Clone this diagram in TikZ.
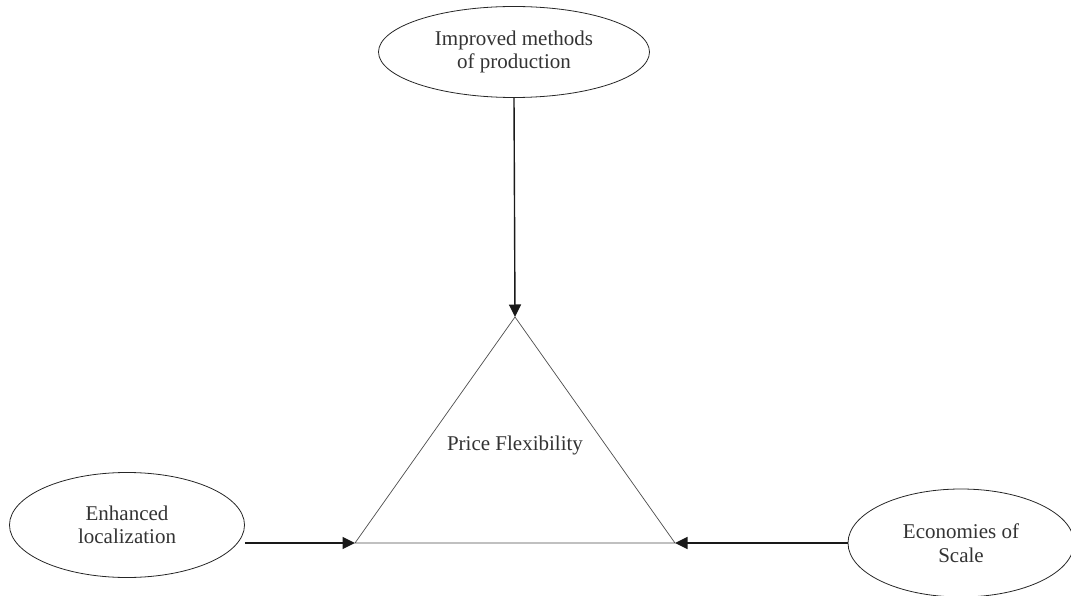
\documentclass[tikz,border=0pt]{standalone}
\usepackage{fontspec}
\setmainfont{Liberation Serif}
\usetikzlibrary{shapes.geometric,arrows.meta}
\begin{document}
\begin{tikzpicture}[x=1pt,y=-1pt,
  oval/.style={ellipse,draw=black!85,line width=0.8pt,inner sep=0pt,align=center,
    font=\fontsize{21}{23.5}\selectfont,text=black!80},
  arr/.style={draw=black!90,line width=1.4pt,-{Triangle[length=12.5pt,width=12pt]}},
  tri/.style={draw=black!70,line width=0.7pt},
  lbl/.style={font=\fontsize{21}{23.5}\selectfont,text=black!80}]
\useasboundingbox (0,0) rectangle (1071,596);
\node[oval,minimum width=271pt,minimum height=91pt] (top) at (514,52) {Improved methods\\of production};
\node[oval,minimum width=235pt,minimum height=105pt] (left) at (127,525) {Enhanced\\localization};
\node[oval,minimum width=226pt,minimum height=108pt] (right) at (961,543) {Economies of\\Scale};
\coordinate (A) at (515,317);
\coordinate (B) at (355,543);
\coordinate (C) at (675,543);
\draw[tri] (A) -- (B) -- (C) -- cycle;
\node[lbl] (pf) at (515,445) {Price Flexibility};
\draw[arr] (top.south) -- (A);
\draw[arr] (left.east |- B) -- (B);
\draw[arr] (right.west) -- (C);
\end{tikzpicture}
\end{document}
